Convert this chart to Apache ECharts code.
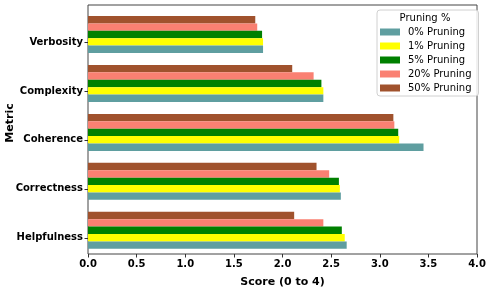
<!DOCTYPE html>
<html>
<head>
<meta charset="utf-8">
<script src="https://cdn.jsdelivr.net/npm/echarts@6/dist/echarts.min.js"></script>
<style>
html,body{margin:0;padding:0;background:#fff;}
#c{width:491px;height:293px;}
</style>
</head>
<body>
<div id="c"></div>
<script>
const categories = ['Helpfulness', 'Correctness', 'Coherence', 'Complexity', 'Verbosity'];
const seriesNames = ['0% Pruning', '1% Pruning', '5% Pruning', '20% Pruning', '50% Pruning'];
const pruning0 = [2.66, 2.60, 3.45, 2.42, 1.80];
const pruning1 = [2.64, 2.59, 3.20, 2.42, 1.80];
const pruning5 = [2.61, 2.58, 3.19, 2.40, 1.79];
const pruning20 = [2.42, 2.48, 3.15, 2.32, 1.74];
const pruning50 = [2.12, 2.35, 3.14, 2.10, 1.72];
const xTicks = [0, 0.5, 1, 1.5, 2, 2.5, 3, 3.5, 4];

const colors = ['#5F9EA0', '#FFFF00', '#008000', '#FA8072', '#A0522D'];
const values = [pruning0, pruning1, pruning5, pruning20, pruning50];
const FONT = 'DejaVu Sans';

// ECharts stacks horizontal-bar series top-to-bottom, so add them in reverse (0% ends up at the bottom)
const order = [4, 3, 2, 1, 0];

const chart = echarts.init(document.getElementById('c'), null, {renderer: 'canvas'});
chart.setOption({
  animation: false,
  textStyle: {fontFamily: FONT},
  grid: [
    {left: 88, right: 14, top: 5, bottom: 33.5, show: true, borderColor: '#444', borderWidth: 1, backgroundColor: 'transparent'},
    {left: 88, right: 14, top: 10, bottom: 38.2},
    {left: 88, right: 14, top: 17.5, bottom: 30.7}
  ],
  xAxis: [
    {gridIndex: 0, type: 'value', min: xTicks[0], max: xTicks[xTicks.length - 1], interval: 0.5,
     splitLine: {show: false}, axisLine: {show: false},
     axisTick: {show: true, length: 3.5, lineStyle: {color: '#333'}},
     axisLabel: {formatter: v => v.toFixed(1), fontSize: 10, fontWeight: 'bold', color: '#000', margin: 5, fontFamily: FONT},
     name: 'Score (0 to 4)', nameLocation: 'middle', nameGap: 23,
     nameTextStyle: {fontSize: 11, fontWeight: 'bold', color: '#000', fontFamily: FONT}},
    {gridIndex: 1, type: 'value', min: 0, max: 4, show: false},
    {gridIndex: 2, type: 'value', min: 0, max: 4, show: false}
  ],
  yAxis: [
    {gridIndex: 0, type: 'value', show: false},
    {gridIndex: 1, type: 'category', data: categories, show: false},
    {gridIndex: 2, type: 'category', data: categories,
     axisLine: {show: false},
     axisTick: {show: true, alignWithLabel: true, length: 3.5, lineStyle: {color: '#333'}},
     axisLabel: {fontSize: 10, fontWeight: 'bold', color: '#000', margin: 5, fontFamily: FONT}}
  ],
  legend: {
    orient: 'vertical', left: 377, top: 10,
    padding: [15, 7, 1, 3],
    itemWidth: 20, itemHeight: 7, itemGap: 0,
    icon: 'rect',
    borderColor: '#d0d0d0', borderWidth: 1, borderRadius: 3, backgroundColor: 'rgba(255,255,255,0.85)',
    textStyle: {fontSize: 10, color: '#000', lineHeight: 14, padding: [0, 0, 0, 3], fontFamily: FONT},
    data: seriesNames
  },
  graphic: [
    {type: 'text', x: 425, y: 18.3, z: 100,
     style: {text: 'Pruning %', fontSize: 10, fontFamily: FONT, fill: '#000', textAlign: 'center', textVerticalAlign: 'middle'}},
    {type: 'text', x: 10, y: 123, rotation: Math.PI / 2, z: 100,
     style: {text: 'Metric', fontSize: 11, fontWeight: 'bold', fontFamily: FONT, fill: '#000', textAlign: 'center', textVerticalAlign: 'middle'}}
  ],
  series: order.map(i => ({
    name: seriesNames[i], type: 'bar', xAxisIndex: 1, yAxisIndex: 1,
    data: values[i],
    itemStyle: {color: colors[i]},
    barGap: '0%', barCategoryGap: '24.4%'
  }))
});
</script>
</body>
</html>
